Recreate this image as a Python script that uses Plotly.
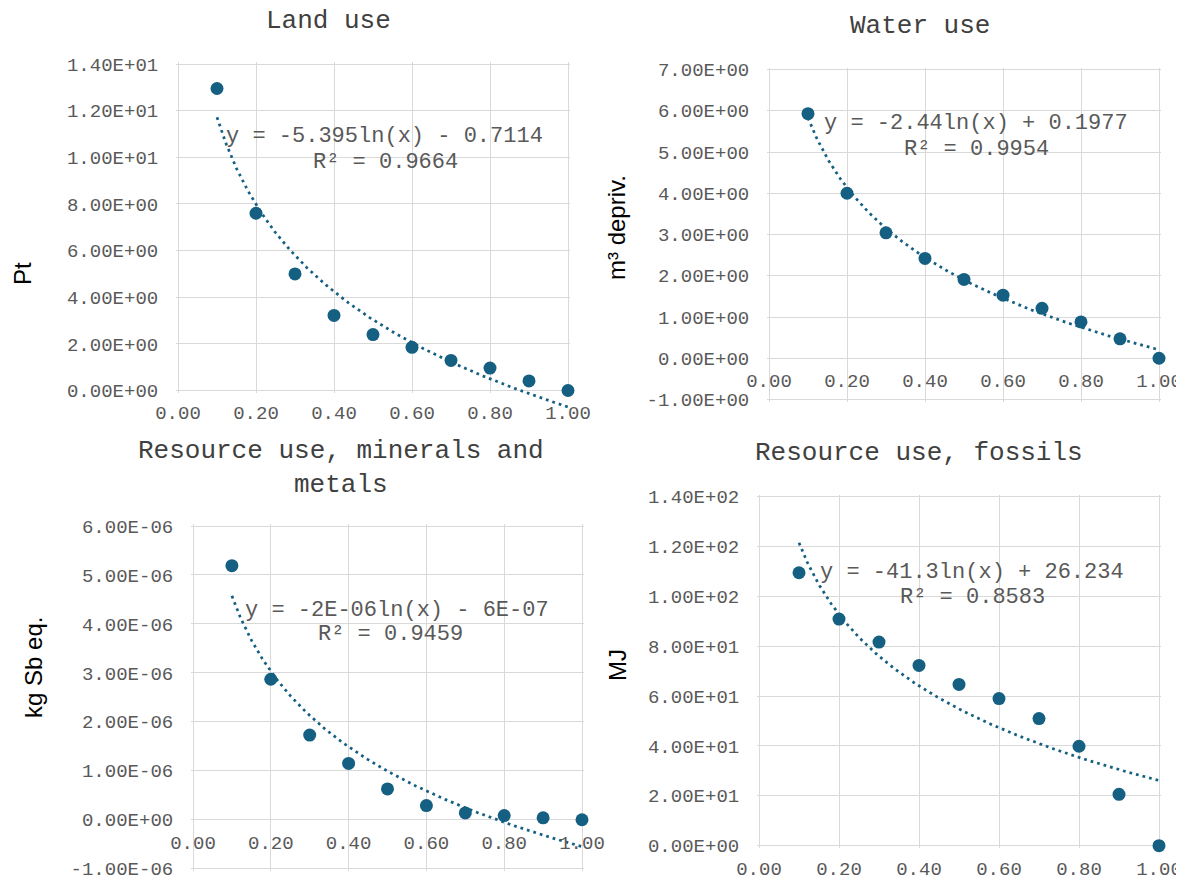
import numpy as np
import plotly.graph_objects as go

W, H = 1184, 878          # browser window
PAGE_MARGIN = 8           # default body margin of the html page
FW, FH = W - PAGE_MARGIN, H - PAGE_MARGIN

# ---------------- data ----------------
x_vals = [0.1, 0.2, 0.3, 0.4, 0.5, 0.6, 0.7, 0.8, 0.9, 1.0]
land_use = [12.95, 7.6, 5.0, 3.22, 2.4, 1.85, 1.29, 0.96, 0.41, 0.0]
water_use = [5.93, 4.0, 3.04, 2.42, 1.91, 1.53, 1.21, 0.88, 0.47, 0.0]
minerals_metals = [5.19e-6, 2.87e-6, 1.73e-6, 1.15e-6, 0.63e-6, 0.29e-6, 0.14e-6, 0.085e-6, 0.04e-6, 0.0]
fossils = [109.5, 90.9, 81.7, 72.3, 64.7, 59.0, 51.0, 39.9, 20.6, 0.0]

titles = ["Land use", "Water use", "Resource use, minerals and<br>metals", "Resource use, fossils"]
y_titles = ["Pt", "m³ depriv.", "kg Sb eq.", "MJ"]
equations = ["y = -5.395ln(x) - 0.7114", "y = -2.44ln(x) + 0.1977",
             "y = -2E-06ln(x) - 6E-07", "y = -41.3ln(x) + 26.234"]
r_squared = ["R² = 0.9664", "R² = 0.9954", "R² = 0.9459", "R² = 0.8583"]

x_ticks = [0.0, 0.2, 0.4, 0.6, 0.8, 1.0]
land_ticks = [0, 2, 4, 6, 8, 10, 12, 14]
water_ticks = [-1, 0, 1, 2, 3, 4, 5, 6, 7]
minerals_ticks = [-1e-6, 0.0, 1e-6, 2e-6, 3e-6, 4e-6, 5e-6, 6e-6]
fossils_ticks = [0, 20, 40, 60, 80, 100, 120, 140]

# ---------------- style / layout ----------------
BLUE = "#156082"
GRID = "#d9d9d9"
TICK = "#595959"
MONO = "Courier New, Liberation Mono, monospace"
SANS = "Arial, Liberation Sans, sans-serif"
PAD = 2  # px of breathing room so the border gridlines are kept by plotly

panels = [
    dict(y=land_use, ticks=land_ticks, box=(178, 568, 64, 390.5), ext=1.0,
         title_xy=(328, 21), ytitle_xy=(22, 274), eq_xy=(384, 136), r2_xy=(385, 162)),
    dict(y=water_use, ticks=water_ticks, box=(769, 1159, 69.5, 399.5), ext=0,
         title_xy=(920, 26), ytitle_xy=(616, 228), eq_xy=(976, 124), r2_xy=(976, 150)),
    dict(y=minerals_metals, ticks=minerals_ticks, box=(193, 582, 526, 868.7), ext=0,
         title_xy=(341, 468), ytitle_xy=(33, 668), eq_xy=(397, 610), r2_xy=(390, 634)),
    dict(y=fossils, ticks=fossils_ticks, box=(759, 1159, 496.7, 845.7), ext=0,
         title_xy=(919, 453), ytitle_xy=(617, 665), eq_xy=(972, 572), r2_xy=(972, 597)),
]

fig = go.Figure()
layout = dict(width=FW, height=FH, autosize=False,
              margin=dict(l=0, r=0, t=0, b=0, pad=0, autoexpand=False),
              paper_bgcolor="white", plot_bgcolor="rgba(0,0,0,0)", showlegend=False)
annotations = []


def px(x):
    return (x - PAGE_MARGIN) / FW


def py(y):
    return 1 - (y - PAGE_MARGIN) / FH


extra = 5
for i, p in enumerate(panels):
    n = i + 1
    xa = "x" if n == 1 else f"x{n}"
    ya = "y" if n == 1 else f"y{n}"
    xk = "xaxis" if n == 1 else f"xaxis{n}"
    yk = "yaxis" if n == 1 else f"yaxis{n}"
    l, r, t, b = p["box"]
    xmin, xmax = x_ticks[0], x_ticks[-1]
    ymin, ymax = p["ticks"][0], p["ticks"][-1]
    pxu = (b - t) / (ymax - ymin)
    xpu = (r - l) / (xmax - xmin)
    zero_py = b - (0 - ymin) * pxu
    ypad = PAD / pxu
    xpad = PAD / xpu

    layout[xk] = dict(domain=[px(l - PAD), px(r + PAD)], range=[xmin - xpad, xmax + xpad],
                      tickvals=x_ticks, ticktext=[f"{v:.2f}" for v in x_ticks],
                      showgrid=True, gridcolor=GRID, gridwidth=1, zeroline=False, showline=False,
                      ticks="outside", ticklen=5, tickcolor="rgba(0,0,0,0)",
                      tickfont=dict(family=MONO, size=19, color=TICK), ticklabeloverflow="allow",
                      anchor="free", position=py(zero_py), fixedrange=True, automargin=False)
    layout[yk] = dict(domain=[py(b + PAD), py(t - PAD)], range=[ymin - ypad, ymax + ypad],
                      tickvals=p["ticks"], ticktext=[f"{v:.2E}" for v in p["ticks"]],
                      showgrid=True, gridcolor=GRID, gridwidth=1, zeroline=False, showline=False,
                      ticks="outside", ticklen=15 - PAD, tickcolor="rgba(0,0,0,0)",
                      tickfont=dict(family=MONO, size=19, color=TICK), ticklabeloverflow="allow",
                      anchor=xa, fixedrange=True, automargin=False)

    fig.add_trace(go.Scatter(x=x_vals, y=p["y"], mode="markers", xaxis=xa, yaxis=ya,
                             marker=dict(size=13, color=BLUE), cliponaxis=False,
                             hoverinfo="x+y"))

    # logarithmic trendline (least squares on ln(x), as the spreadsheet does)
    slope, intercept = np.polyfit(np.log(x_vals), p["y"], 1)
    xs = np.linspace(min(x_vals), max(x_vals), 300)
    ys = slope * np.log(xs) + intercept
    txa, tya = xa, ya
    if p["ext"]:
        txa, tya = f"x{extra}", f"y{extra}"
        ext = p["ext"]
        layout[f"xaxis{extra}"] = dict(domain=[px(l), px(r)], range=[xmin, xmax], visible=False,
                                        anchor=tya, fixedrange=True, automargin=False)
        layout[f"yaxis{extra}"] = dict(domain=[py(b + ext * pxu), py(t)], range=[ymin - ext, ymax],
                                        visible=False, anchor=txa, fixedrange=True, automargin=False)
    fig.add_trace(go.Scatter(x=xs, y=ys, mode="lines", xaxis=txa, yaxis=tya,
                             line=dict(color=BLUE, width=2.75, dash="2.75px,4px"),
                             hoverinfo="skip"))

    tx, ty = p["title_xy"]
    annotations.append(dict(text=titles[i], x=px(tx), y=py(ty), xref="paper", yref="paper",
                            showarrow=False, xanchor="center", yanchor="middle",
                            font=dict(family=MONO, size=26, color="#404040")))
    ax_, ay_ = p["ytitle_xy"]
    annotations.append(dict(text=y_titles[i], x=px(ax_), y=py(ay_), xref="paper", yref="paper",
                            showarrow=False, xanchor="center", yanchor="middle", textangle=-90,
                            font=dict(family=SANS, size=24, color="black")))
    ex, ey = p["eq_xy"]
    annotations.append(dict(text=equations[i], x=px(ex), y=py(ey), xref="paper", yref="paper",
                            showarrow=False, xanchor="center", yanchor="middle",
                            font=dict(family=MONO, size=22, color=TICK)))
    rx, ry = p["r2_xy"]
    annotations.append(dict(text=r_squared[i], x=px(rx), y=py(ry), xref="paper", yref="paper",
                            showarrow=False, xanchor="center", yanchor="middle",
                            font=dict(family=MONO, size=22, color=TICK)))

layout["annotations"] = annotations
fig.update_layout(**layout)
fig.write_html("out.html")
